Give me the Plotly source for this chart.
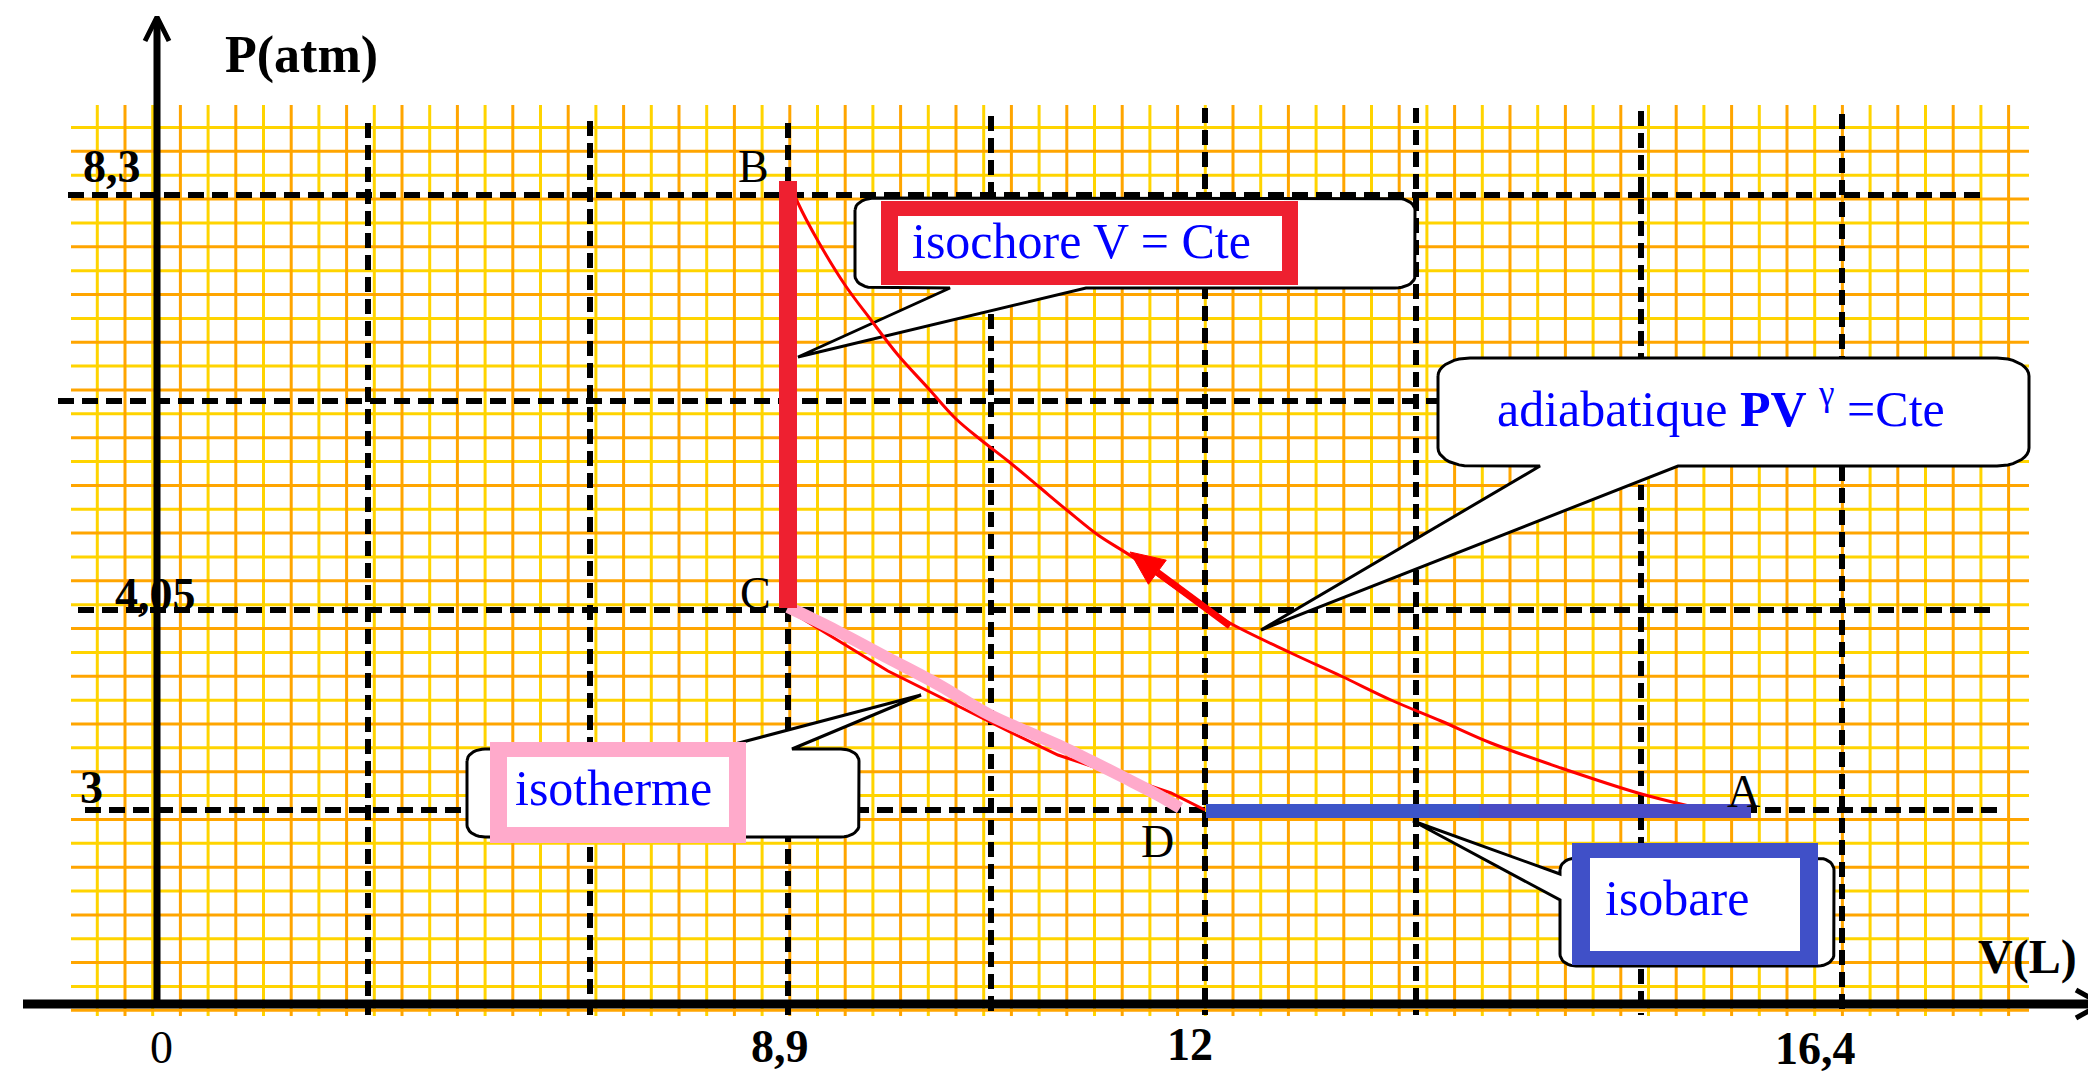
import numpy as np
import plotly.graph_objects as go

# ------------------------------------------------------------------
# Data (schematic diagram units: x to the right, y downward as drawn)
# ------------------------------------------------------------------
# reference dashed lines (vertical = volumes, horizontal = pressures)
v_dash_x = [360, 582, 780, 983, 1197, 1408, 1633, 1834]
v_dash_top = [115, 113, 115, 108, 100, 100, 103, 106]
p_dash_y = [187, 393, 602, 802]
p_dash_x0 = [60, 50, 70, 77]
p_dash_x1 = [1972, 1972, 1982, 1989]

# tick labels
v_tick_labels = ["0", "8,9", "12", "16,4"]
v_tick_x = [153, 772, 1182, 1807]
v_tick_y = [1039, 1038, 1036, 1040]
v_tick_bold = [False, True, True, True]
p_tick_labels = ["8,3", "4,05", "3"]
p_tick_x = [104, 147, 83]
p_tick_y = [158, 586, 779]

# axis titles
axis_titles = ["P(atm)", "V(L)"]
axis_title_x = [293, 2019]
axis_title_y = [47, 949]

# states
state_names = ["A", "B", "C", "D"]
state_x = [1735, 745, 747, 1149]
state_y = [783, 158, 585, 833]

# transformations
isochore_x = [780, 780]
isochore_y = [173, 600]

isotherm_x = [780, 829, 880, 931, 982, 1050, 1083, 1117, 1150, 1172]
isotherm_y = [599, 623, 650, 677, 707, 737, 753, 770, 787, 800]

cd_thin_x = [785, 880, 1000, 1050, 1110, 1163, 1197]
cd_thin_y = [605, 663, 723, 747, 767, 785, 802]

adiabat_x = [782, 790, 810, 837, 863, 890, 920, 947, 973, 1000, 1030, 1060,
             1090, 1123, 1175, 1220, 1283, 1333, 1383, 1433, 1483, 1553, 1630, 1681]
adiabat_y = [175, 195, 233, 277, 312, 347, 380, 410, 432, 453, 478, 503,
             527, 548, 585, 614, 645, 668, 692, 713, 735, 760, 785, 798]

isobar_x = [1198, 1471, 1743]
isobar_y = [803, 803, 803]

arrow_tail = (1222, 618)
arrow_tip = (1122, 544)

# callouts
callout_text = ["isochore V = Cte",
                "adiabatique <b>PV</b> <sup>γ</sup> =Cte",
                "isotherme",
                "isobare"]
callout_text_x = [1073, 1713, 605, 1669]
callout_text_y = [233, 397, 780, 890]
callout_box = [(847, 190, 1407, 280), (1430, 350, 2021, 458),
               (459, 741, 851, 829), (1552, 850, 1826, 958)]
callout_round = [(20, 12), (32, 18), (18, 12), (16, 12)]
callout_side = ["bottom", "bottom", "top", "left"]
callout_base = [(942, 1078), (1532, 1670), (708, 784), (866, 892)]
callout_apex = [(790, 349), (1253, 622), (913, 687), (1405, 813)]
frame_outer = [(873, 193, 1290, 277), None, (482, 734, 738, 835), (1564, 835, 1810, 957)]
frame_inner = [(890, 208, 1274, 263), None, (499, 749, 721, 819), (1582, 850, 1792, 943)]
frame_color = ["#EE2030", None, "#FFAACB", "#4050C8"]

# ------------------------------------------------------------------
fig = go.Figure()


def add_line(xs, ys, color, width, dash=None, fill=None, fillcolor=None, shape="linear"):
    fig.add_trace(go.Scatter(x=xs, y=ys, mode="lines",
                             line=dict(color=color, width=width, dash=dash, shape=shape),
                             fill=fill, fillcolor=fillcolor,
                             hoverinfo="skip", showlegend=False))


# millimetre paper grid
grid_vx = 89.3 + 27.7 * np.arange(70)
grid_hy = 119.5 + 23.86 * np.arange(38)
for col, sel in (("#FFD400", 0), ("#FFA500", 1)):
    xs, ys = [], []
    for i, gx in enumerate(grid_vx):
        if i % 2 == sel:
            xs += [gx, gx, None]
            ys += [97, 1008, None]
    for j, gy in enumerate(grid_hy):
        if j % 2 == sel:
            xs += [63, 2021, None]
            ys += [gy, gy, None]
    add_line(xs, ys, col, 3)

# dashed reference lines
xs, ys = [], []
for y, a, b in zip(p_dash_y, p_dash_x0, p_dash_x1):
    xs += [a, b, None]
    ys += [y, y, None]
add_line(xs, ys, "black", 6, dash="16px,8px")
xs, ys = [], []
for x, t in zip(v_dash_x, v_dash_top):
    xs += [x, x, None]
    ys += [t, 1007, None]
add_line(xs, ys, "black", 6, dash="15px,7px")

# axes with arrows
add_line([149, 149], [993, 12], "black", 7)
add_line([137, 149, 161], [33, 9, 33], "black", 5)
add_line([15, 2088], [996, 996], "black", 9)
add_line([2068, 2093, 2068], [982, 996, 1010], "black", 5)


def rounded_outline(box, r, side, base, apex, n=10):
    x0, y0, x1, y1 = box
    rx, ry = r
    pts = []

    def arc(cx, cy, a0, a1):
        t = np.linspace(a0, a1, n)
        return [(cx + rx * np.cos(a), cy + ry * np.sin(a)) for a in t]

    pts += arc(x0 + rx, y0 + ry, np.pi, 1.5 * np.pi)
    if side == "top":
        pts += [(base[0], y0), apex, (base[1], y0)]
    pts += arc(x1 - rx, y0 + ry, 1.5 * np.pi, 2 * np.pi)
    pts += arc(x1 - rx, y1 - ry, 0, 0.5 * np.pi)
    if side == "bottom":
        pts += [(base[1], y1), apex, (base[0], y1)]
    pts += arc(x0 + rx, y1 - ry, 0.5 * np.pi, np.pi)
    if side == "left":
        pts += [(x0, base[1]), apex, (x0, base[0])]
    pts.append(pts[0])
    return [p[0] for p in pts], [p[1] for p in pts]


def rect(b):
    x0, y0, x1, y1 = b
    return [x0, x1, x1, x0, x0], [y0, y0, y1, y1, y0]


# callout bubbles
for i in range(len(callout_text)):
    bx, by = rounded_outline(callout_box[i], callout_round[i], callout_side[i],
                             callout_base[i], callout_apex[i])
    add_line(bx, by, "black", 3, fill="toself", fillcolor="white")
    if frame_outer[i] is not None:
        ox, oy = rect(frame_outer[i])
        add_line(ox, oy, frame_color[i], 0, fill="toself", fillcolor=frame_color[i])
        ix, iy = rect(frame_inner[i])
        add_line(ix, iy, "white", 0, fill="toself", fillcolor="white")

# transformations
add_line(cd_thin_x, cd_thin_y, "#FF0000", 3)
add_line(isotherm_x, isotherm_y, "#FFAACB", 12, shape="spline")
add_line(adiabat_x, adiabat_y, "#FF0000", 3, shape="spline")
add_line(isochore_x, isochore_y, "#EE2030", 18)
add_line(isobar_x[:2], isobar_y[:2], "#3D55C8", 14)
add_line(isobar_x[1:], isobar_y[1:], "#4A4CC4", 14)

# direction arrow on the adiabatic (shaft + filled head)
tail = np.array(arrow_tail, float)
tip = np.array(arrow_tip, float)
d = (tip - tail) / np.linalg.norm(tip - tail)
perp = np.array([-d[1], d[0]])
head_len, head_half = 34, 15
base = tip - head_len * d
add_line([tail[0], base[0]], [tail[1], base[1]], "#FF0000", 7)
tri = [tip, base + head_half * perp, base - head_half * perp, tip]
add_line([p[0] for p in tri], [p[1] for p in tri], "#FF0000", 1,
         fill="toself", fillcolor="#FF0000")

annotations = []
SERIF = "Liberation Serif"
for t, x, y, b in zip(v_tick_labels, v_tick_x, v_tick_y, v_tick_bold):
    annotations.append(dict(x=x, y=y, text=f"<b>{t}</b>" if b else t, showarrow=False,
                            font=dict(family=SERIF, size=46, color="black"),
                            xanchor="center", yanchor="middle"))
for t, x, y in zip(p_tick_labels, p_tick_x, p_tick_y):
    annotations.append(dict(x=x, y=y, text=f"<b>{t}</b>", showarrow=False,
                            font=dict(family=SERIF, size=46, color="black"),
                            xanchor="center", yanchor="middle"))
for t, x, y, s in zip(axis_titles, axis_title_x, axis_title_y, [52, 48]):
    annotations.append(dict(x=x, y=y, text=f"<b>{t}</b>", showarrow=False,
                            font=dict(family=SERIF, size=s, color="black"),
                            xanchor="center", yanchor="middle"))
for t, x, y in zip(state_names, state_x, state_y):
    annotations.append(dict(x=x, y=y, text=t, showarrow=False,
                            font=dict(family=SERIF, size=46, color="black"),
                            xanchor="center", yanchor="middle"))
for t, x, y in zip(callout_text, callout_text_x, callout_text_y):
    annotations.append(dict(x=x, y=y, text=t, showarrow=False,
                            font=dict(family=SERIF, size=50, color="#0000FF"),
                            xanchor="center", yanchor="middle"))

fig.update_layout(
    width=2096, height=1071,
    margin=dict(l=0, r=0, t=0, b=0),
    paper_bgcolor="white", plot_bgcolor="white",
    xaxis=dict(range=[0, 2096], visible=False, fixedrange=True),
    yaxis=dict(range=[1071, 0], visible=False, fixedrange=True),
    showlegend=False, hovermode=False,
    annotations=annotations,
)

fig.write_html("out.html")
